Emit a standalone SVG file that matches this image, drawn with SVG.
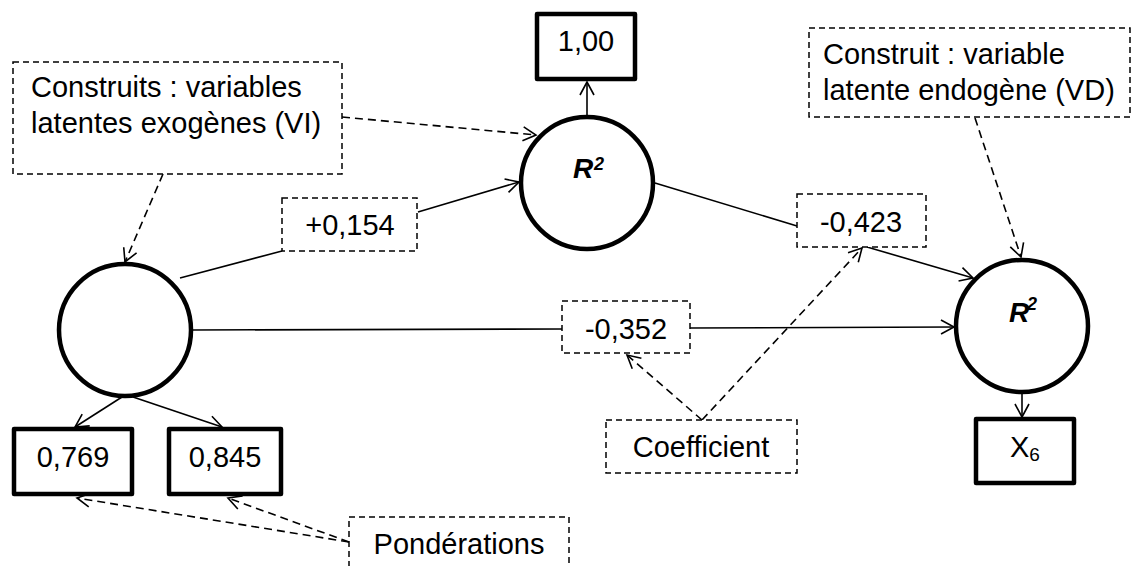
<svg xmlns="http://www.w3.org/2000/svg" width="1133" height="566" viewBox="0 0 1133 566">
<defs>
<marker id="arr" markerUnits="userSpaceOnUse" markerWidth="30" markerHeight="30" viewBox="-15 -15 30 30" refX="0" refY="0" orient="auto">
<path d="M-13,-7 L0,0 L-13,7" fill="none" stroke="#000" stroke-width="1.6"/>
</marker>
</defs>
<style>
text{font-family:"Liberation Sans",Arial,sans-serif;font-size:29px;fill:#000}
.c{text-anchor:middle}
.node{fill:#fff;stroke:#000;stroke-width:4.5;stroke-linejoin:round}
.dbox{fill:#fff;stroke:#000;stroke-width:1.5;stroke-dasharray:6,4}
.ln{stroke:#000;stroke-width:1.6;fill:none}
.dl{stroke:#000;stroke-width:1.6;fill:none;stroke-dasharray:8,5}
.r{font-weight:bold;font-style:italic;font-size:28px}
.sup{font-weight:bold;font-style:italic;font-size:18px}
</style>
<g id="connectors">
<line class="ln" x1="180" y1="278" x2="282" y2="251"/>
<line class="ln" x1="418" y1="212" x2="519" y2="182" marker-end="url(#arr)"/>
<line class="ln" x1="655" y1="183" x2="797" y2="226"/>
<line class="ln" x1="867" y1="247" x2="973" y2="278" marker-end="url(#arr)"/>
<line class="ln" x1="191" y1="330" x2="562" y2="329"/>
<line class="ln" x1="690" y1="328" x2="954" y2="327" marker-end="url(#arr)"/>
<line class="ln" x1="587" y1="116" x2="587" y2="82" marker-end="url(#arr)"/>
<line class="ln" x1="1022" y1="393" x2="1022" y2="417" marker-end="url(#arr)"/>
<line class="ln" x1="122" y1="397" x2="75" y2="427" marker-end="url(#arr)"/>
<line class="ln" x1="133" y1="397" x2="222" y2="427" marker-end="url(#arr)"/>
<line class="dl" x1="163" y1="174" x2="125" y2="262" marker-end="url(#arr)"/>
<line class="dl" x1="342" y1="117" x2="536" y2="135" marker-end="url(#arr)"/>
<line class="dl" x1="975" y1="118" x2="1021" y2="257" marker-end="url(#arr)"/>
<line class="dl" x1="702" y1="420" x2="627" y2="355" marker-end="url(#arr)"/>
<line class="dl" x1="702" y1="420" x2="862" y2="248" marker-end="url(#arr)"/>
<line class="dl" x1="349" y1="542" x2="77" y2="498" marker-end="url(#arr)"/>
<line class="dl" x1="349" y1="542" x2="228" y2="498" marker-end="url(#arr)"/>
</g>
<g id="note-exogenes">
<rect class="dbox" x="13" y="62" width="329" height="112"/>
<text x="31" y="97">Construits : variables</text>
<text x="31" y="133">latentes exogènes (VI)</text>
</g>
<g id="note-endogene">
<rect class="dbox" x="809" y="28" width="321" height="89"/>
<text x="823" y="64">Construit : variable</text>
<text x="823" y="100">latente endogène (VD)</text>
</g>
<g id="box-100">
<rect class="node" x="537" y="14" width="98" height="65"/>
<text class="c" x="586" y="51">1,00</text>
</g>
<g id="circle-top">
<circle class="node" cx="587" cy="183" r="66"/>
<text class="r" x="573" y="178">R</text>
<text class="sup" x="594" y="170">2</text>
</g>
<g id="circle-left">
<circle class="node" cx="125" cy="330" r="66"/>
</g>
<g id="circle-right">
<circle class="node" cx="1022" cy="326" r="66"/>
<text class="r" x="1009" y="322">R</text>
<text class="sup" x="1027" y="310">2</text>
</g>
<g id="coef-154">
<rect class="dbox" x="282" y="198" width="135" height="53"/>
<text class="c" x="350" y="235">+0,154</text>
</g>
<g id="coef-423">
<rect class="dbox" x="797" y="194" width="129" height="53"/>
<text class="c" x="861" y="232">-0,423</text>
</g>
<g id="coef-352">
<rect class="dbox" x="562" y="301" width="128" height="52"/>
<text class="c" x="626" y="339">-0,352</text>
</g>
<g id="box-769">
<rect class="node" x="14" y="429" width="118" height="65"/>
<text class="c" x="73" y="467">0,769</text>
</g>
<g id="box-845">
<rect class="node" x="169" y="429" width="112" height="65"/>
<text class="c" x="225" y="467">0,845</text>
</g>
<g id="box-x6">
<rect class="node" x="976" y="419" width="98" height="64"/>
<text x="1010" y="457">X<tspan dy="4" style="font-size:19px">6</tspan></text>
</g>
<g id="note-coefficient">
<rect class="dbox" x="606" y="420" width="191" height="53"/>
<text class="c" x="701" y="457">Coefficient</text>
</g>
<g id="note-ponderations">
<rect class="dbox" x="349" y="517" width="220" height="60"/>
<text class="c" x="459" y="554">Pondérations</text>
</g>
</svg>
